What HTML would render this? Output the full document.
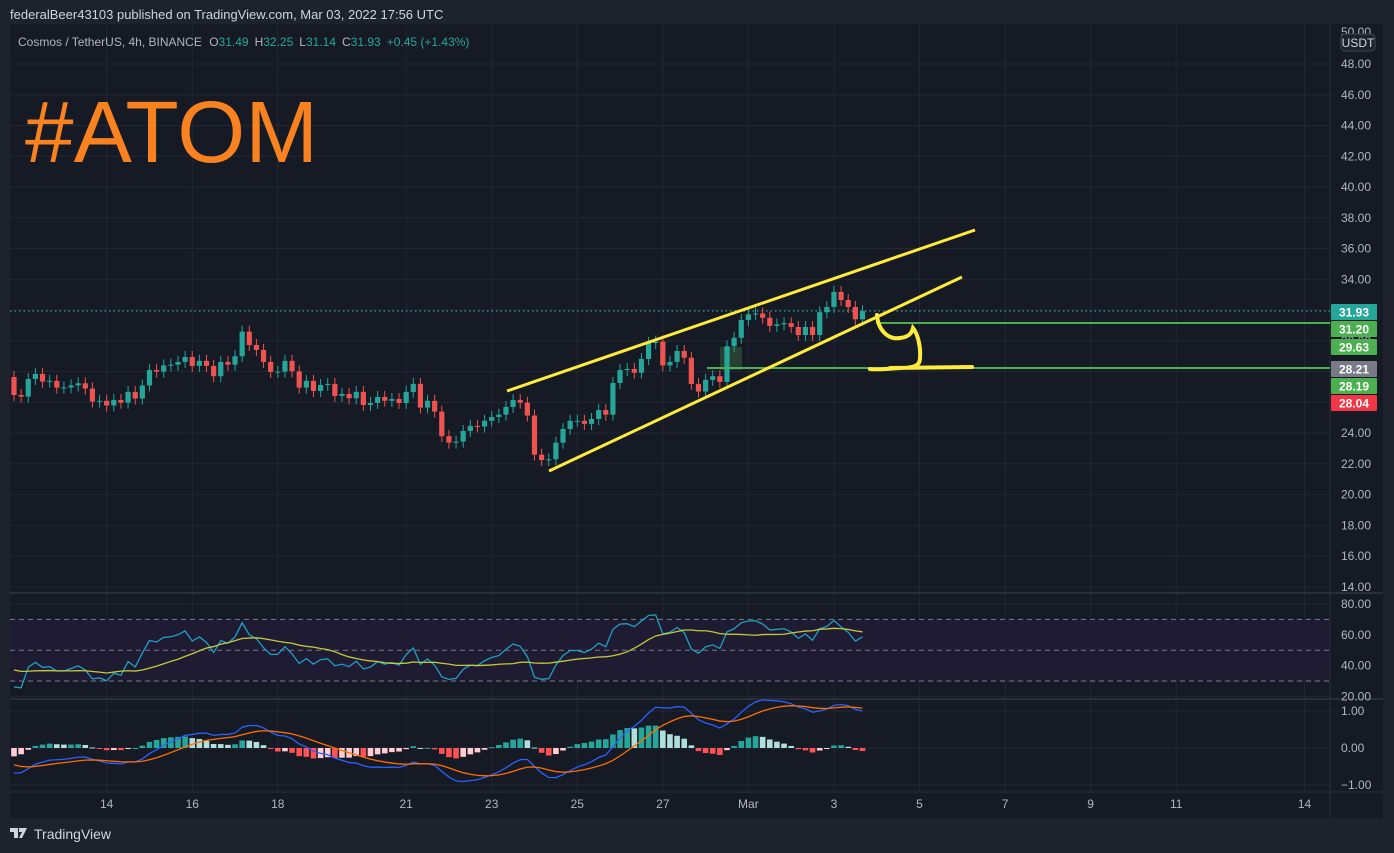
<!DOCTYPE html>
<html><head><meta charset="utf-8">
<style>
html,body{margin:0;padding:0;background:#1e222d;width:1394px;height:853px;overflow:hidden;font-family:"Liberation Sans",sans-serif}
svg{position:absolute;left:0;top:0}
</style></head>
<body>
<svg id="chart" width="1394" height="853">
  <rect x="0" y="0" width="1394" height="853" fill="#1e222d"/>
  <rect x="10" y="24" width="1373" height="794" fill="#161a25"/>
  <g id="grid"></g>
  <rect x="10" y="620" width="1320" height="62" fill="#1f1b33"/>
  <g id="rsiguides"></g>
  <line x1="10" y1="593" x2="1383" y2="593" stroke="#2a2e39" stroke-width="2"/>
  <line x1="10" y1="699" x2="1383" y2="699" stroke="#2a2e39" stroke-width="2"/>
  <line x1="10" y1="792" x2="1383" y2="792" stroke="#2a2e39" stroke-width="1"/>
  <line x1="1330" y1="24" x2="1330" y2="818" stroke="#2a2e39" stroke-width="1"/>
  <line x1="10" y1="311" x2="1330" y2="311" stroke="#26a69a" stroke-width="1.3" stroke-dasharray="1.5 3"/>
  <rect x="720" y="347" width="22" height="23" fill="#2b4a36" opacity="0.8"/>
  <g id="candles"></g>
  <g id="rsi"></g>
  <g id="macd"></g>
  <line x1="876" y1="323" x2="1330" y2="323" stroke="#4caf50" stroke-width="2"/>
  <line x1="707" y1="368" x2="1330" y2="368" stroke="#4caf50" stroke-width="2"/>
  <line x1="507" y1="391" x2="975" y2="230" stroke="#ffeb3b" stroke-width="3"/>
  <line x1="549" y1="471" x2="962" y2="277" stroke="#ffeb3b" stroke-width="3"/>
  <path d="M877,315 C878,330 888,340 900,338 C910,337 912,332 913,328 C917,333 921,345 920,358 C920,366 914,368 900,368 C885,369 875,370 870,369 M890,368 L972,367" fill="none" stroke="#ffeb3b" stroke-width="4" stroke-linecap="round"/>
  <g id="axes"></g>
  <text x="10" y="19" fill="#d1d4dc" font-size="13">federalBeer43103 published on TradingView.com, Mar 03, 2022 17:56 UTC</text>
  <text x="18" y="46" font-size="12" fill="#b2b5be">Cosmos / TetherUS, 4h, BINANCE  <tspan dx="4">O</tspan><tspan fill="#26a69a">31.49</tspan><tspan dx="6">H</tspan><tspan fill="#26a69a">32.25</tspan><tspan dx="6">L</tspan><tspan fill="#26a69a">31.14</tspan><tspan dx="6">C</tspan><tspan fill="#26a69a">31.93</tspan><tspan dx="6" fill="#26a69a">+0.45 (+1.43%)</tspan></text>
  <text x="25" y="162" font-size="87" fill="#f7821f" textLength="293" lengthAdjust="spacingAndGlyphs">#ATOM</text>
  <g>
    <path d="M10,828 h8 v10 h-4 v-6 h-4z M19,828 h8 l-5,10 h-3 l3,-6 h-3z" fill="#d1d4dc"/>
    <text x="34" y="839" font-size="14" fill="#d1d4dc">TradingView</text>
  </g>
</svg>
<script>
// ---- data ----
const firstOpen = 27.65;
const closes = [26.48,26.37,27.52,27.85,27.35,27.4,26.96,26.97,27.1,27.24,
26.9,26.05,26.1,25.8,26.15,25.98,26.68,26.25,27.1,28.1,
28.0,28.4,28.45,28.63,28.95,28.37,28.7,28.37,27.7,28.63,
28.45,29.0,30.6,29.73,29.41,28.63,27.98,28.0,28.7,28.02,
26.96,27.4,26.74,27.13,27.2,26.42,26.55,26.27,26.68,25.83,
25.96,26.35,26.1,26.22,25.96,26.68,27.2,25.66,26.1,25.4,
23.8,23.38,23.45,24.14,24.47,24.43,24.8,25.05,25.2,25.7,
26.15,25.98,25.14,22.6,22.25,22.3,23.38,24.27,24.8,24.8,
24.6,24.92,25.5,25.2,27.26,28.1,28.17,27.93,28.82,29.86,
29.95,28.4,28.63,29.34,28.9,27.2,26.7,27.46,27.7,27.33,
29.65,30.2,31.36,31.73,31.78,31.5,30.97,31.07,31.15,30.9,
30.38,30.9,30.38,31.86,32.2,33.18,32.66,32.2,31.4,31.93];
const priceTicks = [48,46,44,42,40,38,36,34,32,30,28,26,24,22,20,18,16,14];
const dateLabels = ["14","16","18","21","23","25","27","Mar","3","5","7","9","11","14"];
const dateIdx = [13,25,37,55,67,79,91,103,115,127,139,151,163,181];
const rsiTicks = [80,60,40,20];
const macdTicks = [1,0,-1];
const priceTags = [["31.93","#26a69a"],["31.20","#4caf50"],["29.63","#4caf50"],["28.21","#787b86"],["28.19","#4caf50"],["28.04","#f23645"]];

// ---- scales ----
const NS="http://www.w3.org/2000/svg";
const py = p => 64 + (48 - p) * 15.38;
const cx = i => 14 + i * 7.13;
const ry = v => 604 + (80 - v) * 1.54;
const my = v => 748 - v * 37;
function mk(tag, attrs, parent){const e=document.createElementNS(NS,tag);for(const k in attrs)e.setAttribute(k,attrs[k]);parent.appendChild(e);return e;}

const grid=document.getElementById('grid'), axes=document.getElementById('axes');
priceTicks.forEach(p=>{
  const l=mk('line',{x1:10,x2:1330,y1:py(p),y2:py(p),stroke:'#232733','stroke-width':1},grid);
  
  
  const t=mk('text',{x:1341,y:py(p)+4,'font-size':12,fill:'#b2b5be'},axes);
  t.textContent=p.toFixed(2);
  
  
});
dateIdx.forEach((d,k)=>{
  const x=cx(d);
  const l=mk('line',{x1:x,x2:x,y1:24,y2:792,stroke:'#232733','stroke-width':1},grid);
  
  
  const t=mk('text',{x:x,y:808,'font-size':12,fill:'#b2b5be','text-anchor':'middle'},axes);
  t.textContent=dateLabels[k];
  
  
});
{const t=mk('text',{x:1341,y:36,'font-size':12,fill:'#b2b5be'},axes);t.textContent='50.00';

const b=mk('rect',{x:1341,y:34,width:34,height:17,rx:4,fill:'#1e222d',stroke:'#434651'},axes);

const bt=mk('text',{x:1358,y:47,'font-size':12,fill:'#d1d4dc','text-anchor':'middle'},axes);bt.textContent='USDT';
}
rsiTicks.forEach(v=>{
  const l=mk('line',{x1:10,x2:1330,y1:ry(v),y2:ry(v),stroke:'#232733'},grid);
  
  const t=mk('text',{x:1341,y:ry(v)+4,'font-size':12,fill:'#b2b5be'},axes);t.textContent=v.toFixed(2);
  
});
macdTicks.forEach(v=>{
  const l=mk('line',{x1:10,x2:1330,y1:my(v),y2:my(v),stroke:'#232733'},grid);
  
  const t=mk('text',{x:1341,y:my(v)+4,'font-size':12,fill:'#b2b5be'},axes);t.textContent=(v<0?'\u2212'+Math.abs(v).toFixed(2):v.toFixed(2));
  
});
const rg=document.getElementById('rsiguides');
[70,50,30].forEach(v=>{
  const l=mk('line',{x1:10,x2:1330,y1:ry(v),y2:ry(v),stroke:'#787b86','stroke-dasharray':'5 4'},rg);
  
});
priceTags.forEach((tg,k)=>{
  const y=[304,321,339,361,378,395][k];
  const r=mk('rect',{x:1331,y:y,width:46,height:16,rx:1,fill:tg[1]},axes);
  
  const t=mk('text',{x:1354,y:y+12.5,'font-size':12,'font-weight':'bold',fill:'#fff','text-anchor':'middle'},axes);t.textContent=tg[0];
  
});

// candles
const cg=document.getElementById('candles');
closes.forEach((c,i)=>{
  const o = i===0?firstOpen:closes[i-1];
  const up=c>=o, col=up?'#26a69a':'#ef5350';
  const x=cx(i), top=py(Math.max(o,c)), bot=py(Math.min(o,c));
  const w=mk('line',{x1:x,x2:x,y1:top-6,y2:bot+6,stroke:col,'stroke-width':1},cg);
  
  const b=mk('rect',{x:x-2.6,y:top,width:5.2,height:Math.max(1,bot-top),fill:col},cg);
  
});

// RSI(14) with MA(14), derived from closes
const rsiG=document.getElementById('rsi');
let ag=0.12, al=0.25, prev=firstOpen; const rsiVals=[];
closes.forEach(c=>{const d=c-prev;prev=c;ag=(ag*13+Math.max(d,0))/14;al=(al*13+Math.max(-d,0))/14;rsiVals.push(100-100/(1+ag/al));});
const rsiMA=rsiVals.map((v,i)=>{const s=rsiVals.slice(Math.max(0,i-13),i+1);return (s.reduce((a,b)=>a+b,0)+Math.max(0,14-s.length)*38)/14;});
const rl=mk('polyline',{points:rsiVals.map((v,i)=>cx(i)+','+ry(v)).join(' '),fill:'none',stroke:'#1ea0c4','stroke-width':1.3},rsiG);

const rm=mk('polyline',{points:rsiMA.map((v,i)=>cx(i)+','+ry(v)).join(' '),fill:'none',stroke:'#c5c93a','stroke-width':1.3},rsiG);


// MACD(12,26,9)
const mg=document.getElementById('macd');
let e12=26.9,e26=27.6,sig=-0.4; const macdV=[],sigV=[],histV=[];
closes.forEach(c=>{e12=e12+(c-e12)*2/13;e26=e26+(c-e26)*2/27;const m=e12-e26;sig=sig+(m-sig)*2/10;macdV.push(m);sigV.push(sig);histV.push(m-sig);});
histV.forEach((h,i)=>{
  const p=i?histV[i-1]:h;
  const col=h>=0?(h>=p?'#26a69a':'#b2dfdb'):(h<p?'#ff5252':'#ffcdd2');
  const y1=my(Math.max(h,0)), y2=my(Math.min(h,0));
  const r=mk('rect',{x:cx(i)-2.8,y:y1,width:5.6,height:Math.max(1,y2-y1),fill:col},mg);
  
});
const ml=mk('polyline',{points:macdV.map((v,i)=>cx(i)+','+my(v)).join(' '),fill:'none',stroke:'#2962ff','stroke-width':1.3},mg);

const sl=mk('polyline',{points:sigV.map((v,i)=>cx(i)+','+my(v)).join(' '),fill:'none',stroke:'#ff6d00','stroke-width':1.3},mg);

</script>
</body></html>
